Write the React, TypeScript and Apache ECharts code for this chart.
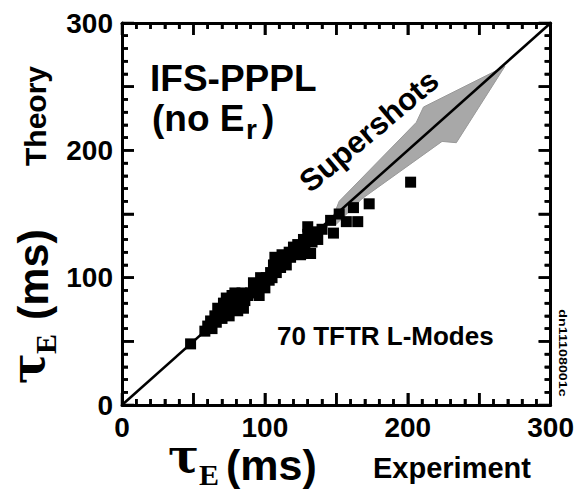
import React, { useEffect, useRef } from "react";
import * as echarts from "echarts";

// tau_E experiment (x) and theory (y), ms — 70 TFTR L-modes
const experiment = [
  48, 58, 60, 62, 63, 65, 66, 67, 68, 70, 71, 72, 73, 74, 75, 76, 77, 78, 79, 80,
  81, 82, 83, 84, 85, 86, 88, 90, 92, 93, 95, 96, 97, 98, 100, 101, 103, 104, 105, 106,
  107, 108, 110, 111, 112, 114, 115, 117, 118, 120, 122, 123, 125, 127, 128, 130, 130, 132, 133, 135,
  137, 140, 146, 148, 152, 157, 162, 165, 173, 202,
];
const theory = [
  48, 58, 62, 66, 60, 70, 65, 76, 72, 68, 80, 74, 84, 78, 70, 76, 86, 82, 88, 78,
  74, 84, 80, 88, 76, 82, 86, 88, 96, 90, 94, 86, 100, 96, 92, 100, 98, 104, 100, 110,
  116, 104, 112, 108, 118, 114, 110, 120, 116, 124, 120, 126, 118, 130, 124, 134, 140, 119, 128, 136,
  130, 138, 145, 135, 150, 144, 155, 144, 158, 175,
];

// y = x reference line
const diagonalX = [0, 300];
const diagonalY = [0, 300];

// "Supershots" shaded arrow outline (data units)
const arrowX = [146, 152, 206, 211, 268, 234, 224, 168, 150];
const arrowY = [143, 160, 222, 234, 266, 206, 207, 162, 142];

// axis ticks (inward on all four sides) and tick labels
const tickLabels = [0, 100, 200, 300];
const majorTicks = [0, 50, 100, 150, 200, 250, 300];
const minorTicks = [
  10, 20, 30, 40, 60, 70, 80, 90, 110, 120, 130, 140, 160, 170, 180, 190,
  210, 220, 230, 240, 260, 270, 280, 290,
];

const FONT = '"Liberation Sans", Arial, sans-serif';

const W = 577;
const H = 491;
const MAJOR_LEN = 12;
const MINOR_LEN = 6;
const TICK_W = 2.5;

export default function App() {
  const ref = useRef<HTMLDivElement>(null);

  useEffect(() => {
    const chart = echarts.init(ref.current!, null, { renderer: "svg" });

    const points = experiment.map((x, i) => [x, theory[i]]);
    const diag = diagonalX.map((x, i) => [x, diagonalY[i]]);
    const arrow = arrowX.map((x, i) => [x, arrowY[i]]);

    const frameAxis = (position: string, withLabels: boolean, margin: number) => ({
      type: "value",
      min: 0,
      max: 300,
      interval: 50,
      position,
      axisLine: { show: true, onZero: false, lineStyle: { color: "#000", width: 3 } },
      axisTick: { show: true, inside: true, length: MAJOR_LEN, lineStyle: { color: "#000", width: TICK_W } },
      minorTick: { show: true, splitNumber: 5, length: MINOR_LEN, lineStyle: { color: "#000", width: TICK_W } },
      splitLine: { show: false },
      axisLabel: withLabels
        ? {
            show: true,
            color: "#000",
            fontFamily: FONT,
            fontWeight: "bold",
            fontSize: 28,
            margin,
            formatter: (v: number) => (tickLabels.includes(v) ? String(v) : ""),
          }
        : { show: false },
    });

    const texts: any[] = [
      { type: "text", x: 150, y: 78, style: { text: "IFS-PPPL", font: `bold 37px ${FONT}`, fill: "#000", verticalAlign: "middle", align: "left" } },
      { type: "text", x: 152, y: 118, style: { text: "(no E", font: `bold 37px ${FONT}`, fill: "#000", verticalAlign: "middle", align: "left" } },
      { type: "text", x: 246, y: 129, style: { text: "r", font: `bold 28px ${FONT}`, fill: "#000", verticalAlign: "middle", align: "left" } },
      { type: "text", x: 262, y: 118, style: { text: ")", font: `bold 37px ${FONT}`, fill: "#000", verticalAlign: "middle", align: "left" } },
      {
        type: "text", x: 369, y: 131, rotation: (40 * Math.PI) / 180,
        style: { text: "Supershots", font: `bold 31px ${FONT}`, fill: "#000", verticalAlign: "middle", align: "center" },
      },
      { type: "text", x: 277, y: 336, style: { text: "70 TFTR L-Modes", font: `bold 26px ${FONT}`, fill: "#000", verticalAlign: "middle", align: "left" } },
      {
        type: "text", x: 563, y: 353, rotation: -Math.PI / 2, scaleX: 1.3,
        style: { text: "dn11108001c", font: `bold 11px ${FONT}`, fill: "#000", verticalAlign: "middle", align: "center" },
      },
      // x-axis title
      { type: "text", x: 168, y: 456, style: { text: "τ", font: 'bold 46px "DejaVu Serif", serif', fill: "#000", verticalAlign: "middle", align: "left" } },
      { type: "text", x: 199, y: 474, style: { text: "E", font: 'bold 30px "Liberation Serif", serif', fill: "#000", verticalAlign: "middle", align: "left" } },
      { type: "text", x: 226, y: 465, style: { text: "(ms)", font: `bold 43px ${FONT}`, fill: "#000", verticalAlign: "middle", align: "left" } },
      { type: "text", x: 373, y: 468, style: { text: "Experiment", font: `bold 29px ${FONT}`, fill: "#000", verticalAlign: "middle", align: "left" } },
      // y-axis title (rotated)
      { type: "text", x: 28, y: 384, rotation: Math.PI / 2, style: { text: "τ", font: 'bold 46px "DejaVu Serif", serif', fill: "#000", verticalAlign: "middle", align: "left" } },
      { type: "text", x: 45, y: 354, rotation: Math.PI / 2, style: { text: "E", font: 'bold 30px "Liberation Serif", serif', fill: "#000", verticalAlign: "middle", align: "left" } },
      { type: "text", x: 33, y: 320, rotation: Math.PI / 2, style: { text: "(ms)", font: `bold 43px ${FONT}`, fill: "#000", verticalAlign: "middle", align: "left" } },
      { type: "text", x: 35, y: 166, rotation: Math.PI / 2, style: { text: "Theory", font: `bold 30px ${FONT}`, fill: "#000", verticalAlign: "middle", align: "left" } },
    ];

    const option: any = {
      animation: false,
      backgroundColor: "#fff",
      grid: { left: 122, right: 22, top: 23, bottom: 86, containLabel: false },
      xAxis: [frameAxis("bottom", true, 8), frameAxis("top", false, 8)],
      yAxis: [frameAxis("left", true, 9), frameAxis("right", false, 9)],
      series: [
        {
          type: "custom",
          xAxisIndex: 0,
          yAxisIndex: 0,
          data: [[150, 150]],
          z: 1,
          renderItem: (params: any, api: any) => {
            if (params.dataIndex !== 0) return null;
            return {
              type: "polygon",
              shape: { points: arrow.map((p) => api.coord(p)) },
              style: { fill: "#a8a8a8", stroke: "#999", lineWidth: 1 },
            };
          },
        },
        {
          type: "line",
          xAxisIndex: 0,
          yAxisIndex: 0,
          data: diag,
          symbol: "none",
          z: 2,
          lineStyle: { color: "#000", width: 2.5 },
        },
        {
          type: "scatter",
          xAxisIndex: 0,
          yAxisIndex: 0,
          data: points,
          symbol: "rect",
          symbolSize: 11,
          z: 3,
          itemStyle: { color: "#000", opacity: 1 },
        },
      ],
      graphic: texts,
    };

    chart.setOption(option);

    // inward tick marks on all four frame edges, positioned through the axes' scales
    const toPx = (p: number[]) => chart.convertToPixel({ xAxisIndex: 0, yAxisIndex: 0 }, p) as number[];
    const tickLines: any[] = [];
    const addTicks = (vals: number[], len: number) => {
      vals.forEach((v) => {
        const b = toPx([v, 0]);
        const t = toPx([v, 300]);
        const l = toPx([0, v]);
        const r = toPx([300, v]);
        const st = { stroke: "#000", lineWidth: TICK_W };
        tickLines.push(
          { type: "line", z: 100, shape: { x1: b[0], y1: b[1], x2: b[0], y2: b[1] - len }, style: st },
          { type: "line", z: 100, shape: { x1: t[0], y1: t[1], x2: t[0], y2: t[1] + len }, style: st },
          { type: "line", z: 100, shape: { x1: l[0], y1: l[1], x2: l[0] + len, y2: l[1] }, style: st },
          { type: "line", z: 100, shape: { x1: r[0], y1: r[1], x2: r[0] - len, y2: r[1] }, style: st },
        );
      });
    };
    addTicks(majorTicks, MAJOR_LEN);
    addTicks(minorTicks, MINOR_LEN);
    chart.setOption({ graphic: [...texts, ...tickLines] });

    return () => chart.dispose();
  }, []);

  return (
    <div
      ref={ref}
      style={{ position: "fixed", left: 0, top: 0, width: W, height: H, background: "#fff" }}
    />
  );
}
